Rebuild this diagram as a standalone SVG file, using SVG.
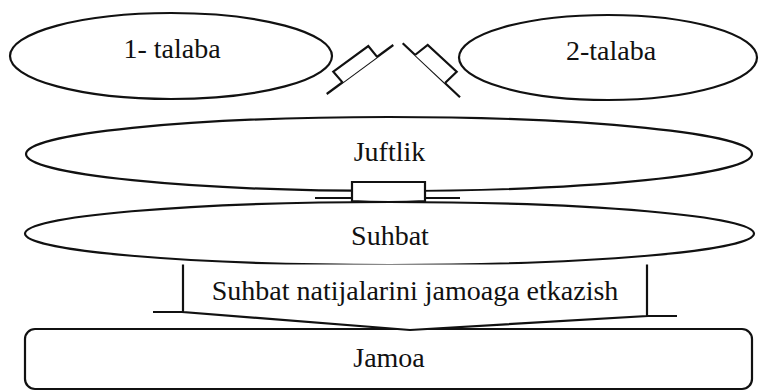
<svg xmlns="http://www.w3.org/2000/svg" width="759" height="391" viewBox="0 0 759 391">
<style>
.s{fill:#fff;stroke:#111;stroke-width:2.2;stroke-linejoin:miter}
.l{fill:none;stroke:#111;stroke-width:2.2}
text{font-family:"Liberation Serif","Times New Roman",serif;font-size:28px;fill:#111;text-anchor:middle}
</style>
<rect width="759" height="391" fill="#fff"/>
<g id="talaba1">
<ellipse class="s" cx="171" cy="56" rx="161" ry="43"/>
<text x="172" y="58">1- talaba</text>
</g>
<g id="talaba2">
<ellipse class="s" cx="608" cy="57.5" rx="149" ry="42.5"/>
<text x="611" y="60">2-talaba</text>
</g>
<g id="juftlik">
<ellipse class="s" cx="389" cy="154" rx="363" ry="37"/>
<text x="389.5" y="161">Juftlik</text>
</g>
<g id="suhbat">
<ellipse class="s" cx="389.5" cy="233.5" rx="364.5" ry="31.5"/>
<text x="390" y="245">Suhbat</text>
</g>
<g id="jamoa">
<rect class="s" x="25" y="329" width="727" height="60" rx="10"/>
<text x="389" y="367">Jamoa</text>
</g>
<g id="connectors">
<path class="l" d="M326.7,94 L393.3,45"/>
<path class="s" d="M342.7,82.6 L333.3,71.7 L368.3,46 L377.3,57.1"/>
<path class="l" d="M402.7,43.3 L460,97.3"/>
<path class="s" d="M415,55 L427.7,45 L456.7,71.7 L445,83"/>
<path class="s" d="M352,201 L352,182 L425,182 L425,201 Q388.5,203 352,201 Z"/>
<path class="l" d="M315,198 L352,198 M425,198 L460,198"/>
<path class="s" d="M183,264.5 L183,312 L410,330 L647,316 L647,264.5"/>
<path class="l" d="M153,312 L183,312 M647,316 L677,316"/>
</g>
<g id="arrowlabel">
<text x="415" y="300">Suhbat natijalarini jamoaga etkazish</text>
</g>
</svg>
